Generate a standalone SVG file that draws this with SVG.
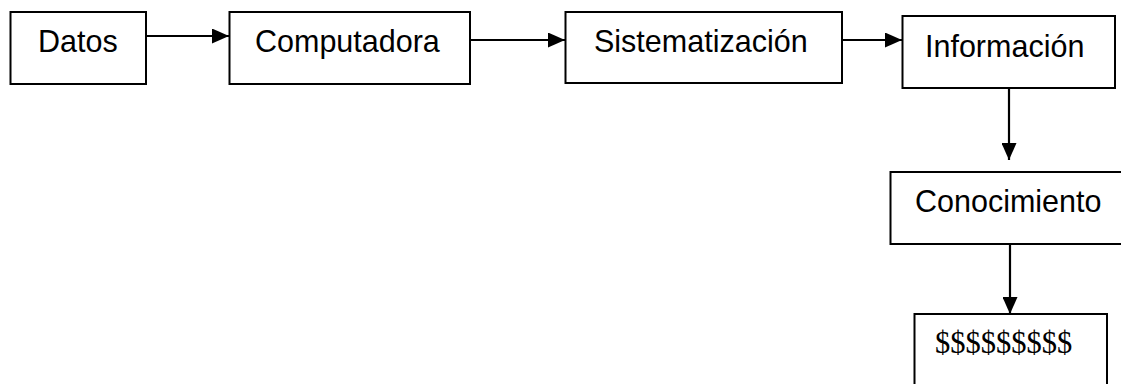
<svg xmlns="http://www.w3.org/2000/svg" width="1121" height="384" viewBox="0 0 1121 384">
<style>
.box{fill:#fff;stroke:#000;stroke-width:2}
.lbl{font-family:"Liberation Sans",Arial,sans-serif;font-size:30.5px;fill:#000}
.ser{font-family:"Liberation Serif","Times New Roman",serif;font-size:30.5px;fill:#000}
.con{stroke:#000;stroke-width:2.2;fill:none}
</style>
<defs>
<marker id="ah" markerWidth="17" markerHeight="15" refX="17" refY="7.5" orient="auto" markerUnits="userSpaceOnUse">
<path d="M0,0 L17,7.5 L0,15 Z" fill="#000"/>
</marker>
</defs>
<rect width="1121" height="384" fill="#fff"/>
<g id="connectors">
<line class="con" x1="146" y1="36" x2="229" y2="36" marker-end="url(#ah)"/>
<line class="con" x1="470" y1="40" x2="565" y2="40" marker-end="url(#ah)"/>
<line class="con" x1="842" y1="40" x2="902" y2="40" marker-end="url(#ah)"/>
<line class="con" x1="1009" y1="88" x2="1009" y2="160" marker-end="url(#ah)"/>
<line class="con" x1="1010" y1="244" x2="1010" y2="314" marker-end="url(#ah)"/>
</g>
<g id="datos">
<rect class="box" x="10.5" y="12" width="135.5" height="72"/>
<text class="lbl" x="38" y="52">Datos</text>
</g>
<g id="computadora">
<rect class="box" x="229.5" y="12" width="240.5" height="72"/>
<text class="lbl" x="255" y="52">Computadora</text>
</g>
<g id="sistematizacion">
<rect class="box" x="565.5" y="12" width="276.5" height="71"/>
<text class="lbl" x="594" y="52">Sistematización</text>
</g>
<g id="informacion">
<rect class="box" x="902.5" y="16" width="212.5" height="72"/>
<text class="lbl" x="925" y="56.5">Información</text>
</g>
<g id="conocimiento">
<rect class="box" x="890.5" y="172" width="240" height="72"/>
<text class="lbl" x="915" y="212">Conocimiento</text>
</g>
<g id="dinero">
<rect class="box" x="914.5" y="314" width="192.5" height="80"/>
<text class="ser" x="935" y="353">$$$$$$$$$</text>
</g>
</svg>
